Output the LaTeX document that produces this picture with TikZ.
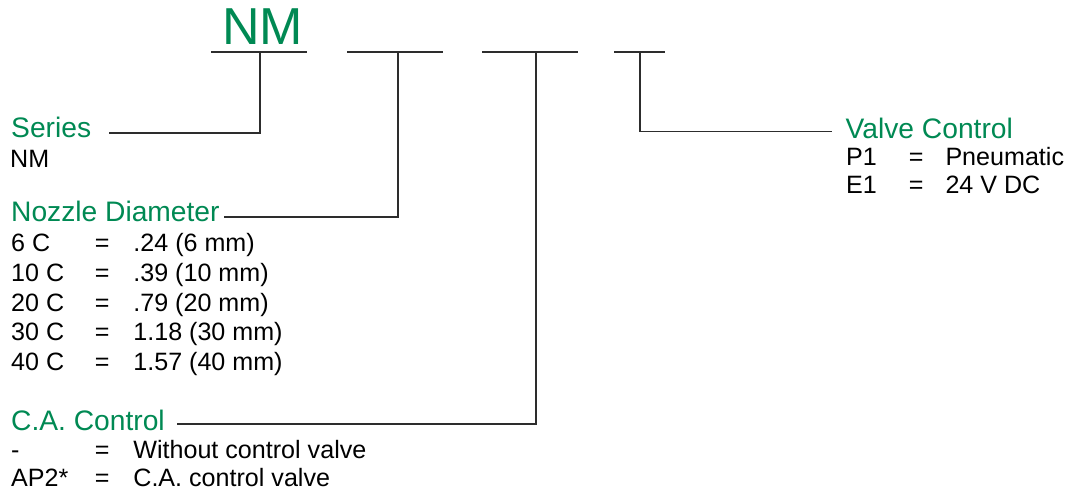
\documentclass[tikz,border=0pt]{standalone}
\usepackage{fontspec}
\setmainfont{Liberation Sans}
\definecolor{brandgreen}{RGB}{0,137,83}
\definecolor{rulegray}{RGB}{45,45,45}
\newcommand{\rowL}[3]{\makebox[83.7pt][l]{#1}\makebox[38.5pt][l]{#2}#3}
\newcommand{\rowR}[3]{\makebox[62.7pt][l]{#1}\makebox[36.6pt][l]{#2}#3}
\begin{document}
\begin{tikzpicture}[x=1pt,y=-1pt,
  bigtitle/.style={anchor=base west,inner sep=0pt,text=brandgreen,font=\fontsize{52}{52}\selectfont},
  grouplabel/.style={anchor=base west,inner sep=0pt,text=brandgreen,font=\fontsize{28.2}{30}\selectfont},
  entry/.style={anchor=base west,inner sep=0pt,text=black,font=\fontsize{25.1}{29.8}\selectfont},
  blank/.style={draw=rulegray,line width=1.5pt},
  leader/.style={draw=rulegray,line width=1.5pt}]
\useasboundingbox (0,0) rectangle (1073,493);

% title and blanks
\node[bigtitle] (nm) at (222,44) {NM};
\coordinate (b1l) at (211,52); \coordinate (b1r) at (307,52); \coordinate (b1) at (260,52);
\coordinate (b2l) at (347,52); \coordinate (b2r) at (443,52); \coordinate (b2) at (398,52);
\coordinate (b3l) at (482,52); \coordinate (b3r) at (578,52); \coordinate (b3) at (536,52);
\coordinate (b4l) at (614,52); \coordinate (b4r) at (665,52); \coordinate (b4) at (640,52);
\draw[blank] (b1l) -- (b1r);
\draw[blank] (b2l) -- (b2r);
\draw[blank] (b3l) -- (b3r);
\draw[blank] (b4l) -- (b4r);

% Series
\node[grouplabel] (series) at (11,137) {Series};
\node[entry] (seriesnm) at (10,167) {NM};
\coordinate (sE) at (109,133);
\draw[leader] (b1) |- (sE);

% Nozzle diameter
\node[grouplabel] (nozzle) at (11,221) {Nozzle Diameter};
\coordinate (nE) at (224,217);
\draw[leader] (b2) |- (nE);
\node[entry] (n1) at (11,251.5) {\rowL{6 C}{=}{.24 (6 mm)}};
\node[entry] (n2) at (11,281.3) {\rowL{10 C}{=}{.39 (10 mm)}};
\node[entry] (n3) at (11,311.1) {\rowL{20 C}{=}{.79 (20 mm)}};
\node[entry] (n4) at (11,340.9) {\rowL{30 C}{=}{1.18 (30 mm)}};
\node[entry] (n5) at (11,370.7) {\rowL{40 C}{=}{1.57 (40 mm)}};

% C.A. control
\node[grouplabel] (ca) at (11,430.7) {C.A. Control};
\coordinate (cE) at (177,424);
\draw[leader] (b3) |- (cE);
\node[entry] (c1) at (11,458) {\rowL{-}{=}{Without control valve}};
\node[entry] (c2) at (11,486) {\rowL{AP2*}{=}{C.A. control valve}};

% Valve control
\node[grouplabel] (valve) at (845.5,138) {Valve Control};
\coordinate (vE) at (832,131.7);
\draw[leader] (b4) |- (vE);
\node[entry] (v1) at (846,165) {\rowR{P1}{=}{Pneumatic}};
\node[entry] (v2) at (846,193.5) {\rowR{E1}{=}{24 V DC}};
\end{tikzpicture}
\end{document}
